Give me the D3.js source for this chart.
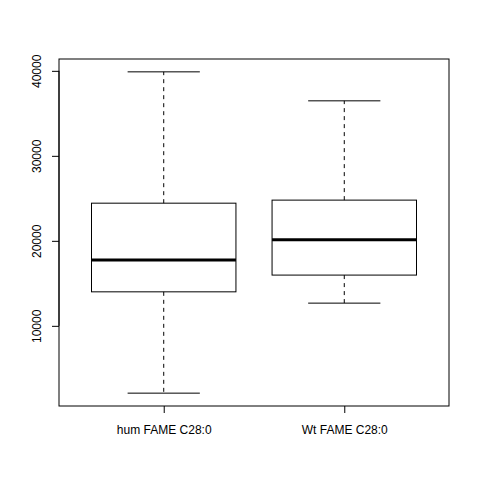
<!DOCTYPE html>
<html><head><meta charset="utf-8">
<script src="https://cdn.jsdelivr.net/npm/d3@7"></script>
<style>body{margin:0;background:#fff}svg{display:block}text{font-family:"Liberation Sans",Arial,Helvetica,sans-serif}</style>
</head><body>
<script>
const categories = ["hum FAME C28:0", "Wt FAME C28:0"];
const whiskerLow = [2080, 12670];
const q1 = [14000, 15970];
const medians = [17730, 20120];
const q3 = [24430, 24790];
const whiskerHigh = [39880, 36470];
const yTicks = [10000, 20000, 30000, 40000];

const W = 480, H = 480;
const L = 59, R = 449, T = 59, B = 406;
const svg = d3.select("body").append("svg").attr("width", W).attr("height", H);

const lo = d3.min(whiskerLow), hi = d3.max(whiskerHigh);
const pad = (hi - lo) * 0.04;
const y = d3.scaleLinear().domain([lo - pad, hi + pad]).range([B, T]);
const x = d3.scaleLinear().domain([0.42, 2.58]).range([L, R]);

const data = categories.map((c, i) => ({c, i: i + 1, lo: whiskerLow[i], q1: q1[i], med: medians[i], q3: q3[i], hi: whiskerHigh[i]}));

const g = svg.append("g");
data.forEach(d => {
  const cx = x(d.i);
  const hw = x(d.i + 0.4) - cx;
  const cw = x(d.i + 0.2) - cx;
  g.append("line").attr("x1", cx).attr("x2", cx).attr("y1", y(d.q3)).attr("y2", y(d.hi))
    .attr("stroke", "#000").attr("stroke-dasharray", "4,4").attr("stroke-width", 1);
  g.append("line").attr("x1", cx).attr("x2", cx).attr("y1", y(d.q1)).attr("y2", y(d.lo))
    .attr("stroke", "#000").attr("stroke-dasharray", "4,4").attr("stroke-width", 1);
  g.append("line").attr("x1", cx - cw).attr("x2", cx + cw).attr("y1", y(d.hi)).attr("y2", y(d.hi)).attr("stroke", "#000");
  g.append("line").attr("x1", cx - cw).attr("x2", cx + cw).attr("y1", y(d.lo)).attr("y2", y(d.lo)).attr("stroke", "#000");
  g.append("rect").attr("x", cx - hw).attr("y", y(d.q3)).attr("width", 2 * hw).attr("height", y(d.q1) - y(d.q3))
    .attr("fill", "none").attr("stroke", "#000").attr("stroke-width", 1);
  g.append("line").attr("x1", cx - hw).attr("x2", cx + hw).attr("y1", y(d.med)).attr("y2", y(d.med))
    .attr("stroke", "#000").attr("stroke-width", 3);
});

svg.append("rect").attr("x", L).attr("y", T).attr("width", R - L).attr("height", B - T)
  .attr("fill", "none").attr("stroke", "#000").attr("stroke-width", 1);

const ya = svg.append("g").attr("transform", `translate(${L},0)`)
  .call(d3.axisLeft(y).tickValues(yTicks).tickSize(7).tickSizeOuter(0).tickFormat(d3.format("d")));
ya.select(".domain").attr("d", `M0,${y(yTicks[0])}V${y(yTicks[yTicks.length-1])}`);
ya.selectAll(".tick text").attr("font-size", 12).attr("font-family", "Liberation Sans, Arial, sans-serif")
  .attr("fill", "#000").attr("text-anchor", "middle")
  .attr("x", 0).attr("y", 0).attr("dy", 0)
  .attr("transform", "translate(-18,0) rotate(-90)");

const xa = svg.append("g").attr("transform", `translate(0,${B})`)
  .call(d3.axisBottom(x).tickValues([1, 2]).tickSize(7).tickSizeOuter(0).tickFormat((d, i) => categories[i]));
xa.select(".domain").remove();
xa.selectAll(".tick text").attr("font-size", 12).attr("font-family", "Liberation Sans, Arial, sans-serif")
  .attr("fill", "#000").attr("y", 28).attr("dy", 0);
</script>
</body></html>
